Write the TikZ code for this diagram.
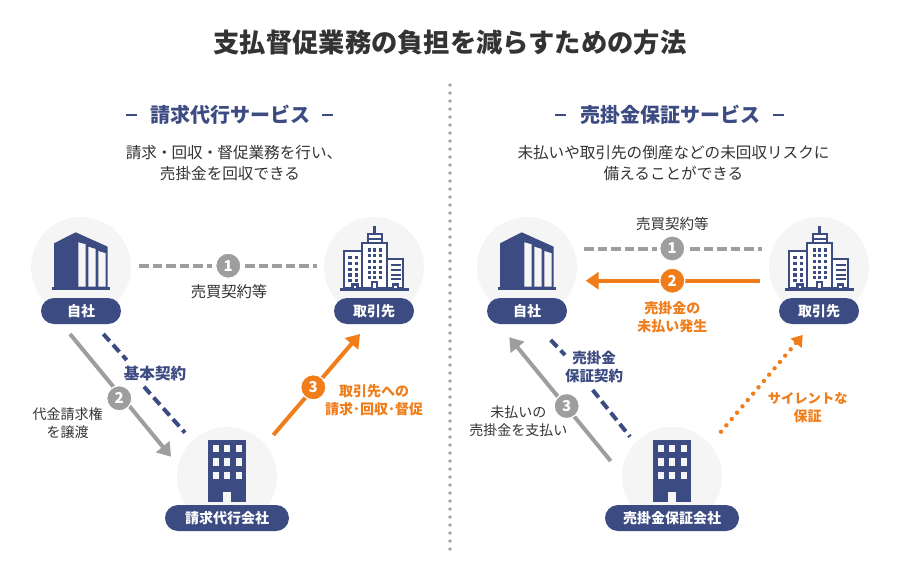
\documentclass[tikz,border=0pt]{standalone}
\usepackage{fontspec}
\setmainfont{Noto Sans CJK JP}
\usetikzlibrary{arrows.meta,shapes.misc}
\definecolor{navy}{HTML}{3C4B81}
\definecolor{orng}{HTML}{F07D1A}
\definecolor{gry}{HTML}{9E9E9E}
\definecolor{ink}{HTML}{333333}
\definecolor{disc}{HTML}{F5F5F5}
\newcommand{\fsz}[2]{\fontsize{#1}{#2}\selectfont}
\tikzset{
  x=1pt,y=-1pt,
  bgdisc/.style={circle,fill=disc,minimum size=100pt,inner sep=0pt},
  pill/.style={rounded rectangle,fill=navy,text=white,font=\fsz{14}{14}\bfseries,minimum height=26pt,inner sep=0pt},
  badge/.style={circle,draw=white,line width=1.2pt,minimum size=25.2pt,inner sep=0pt,text=white,font=\fsz{15}{15}\bfseries},
  label/.style={inner sep=0pt,align=center,text=ink,font=\fsz{14}{18}},
  olabel/.style={inner sep=0pt,align=center,text=orng,font=\fsz{14}{18}\bfseries},
  nlabel/.style={inner sep=0pt,align=center,text=navy,font=\fsz{14.5}{18}\bfseries},
  head/.style={inner sep=0pt,text=navy,font=\fsz{20}{20}\bfseries},
  sub/.style={inner sep=0pt,align=center,text=ink,font=\fsz{15.6}{21}},
  glink/.style={gry,line width=4pt},
  gdash/.style={gry,line width=4pt,dash pattern=on 9.5pt off 4pt},
  ndash/.style={navy,line width=4pt,dash pattern=on 9.5pt off 5pt},
  olink/.style={orng,line width=4pt},
  tipg/.style={-{Triangle[length=13pt,width=17pt,fill=gry]}},
  tipo/.style={-{Triangle[length=13pt,width=17pt,fill=orng]}},
  office/.pic={
    \fill[navy] (-27,-23.7)--(-5.3,-34.7)--(26.7,-20.3)--(26.7,20)--(-27,20)--cycle;
    \fill[navy] (-29,19.7) rectangle (29.3,23);
    \fill[disc] (-2.7,-24.7)--(4.7,-22.7)--(4.7,19.7)--(-2.7,19.7)--cycle;
    \fill[disc] (7.3,-20.3)--(14.7,-18)--(14.7,19.7)--(7.3,19.7)--cycle;
    \fill[disc] (17.3,-16)--(24.7,-13.7)--(24.7,19.7)--(17.3,19.7)--cycle;
  },
  tower/.pic={
    \begin{scope}[draw=navy,line width=2.2pt,fill=white]
      \filldraw (-30,-16) rectangle (-12.3,21);
      \filldraw (13.3,-7.7) rectangle (29.3,21);
      \filldraw (-6.3,-33) rectangle (7.7,-23.7);
      \filldraw (-12.3,-23.7) rectangle (13.3,21);
      \draw (0.5,-41)--(0.5,-33);
      \draw (-6,-28.3)--(7.5,-28.3);
      \filldraw (-2.2,21)--(-2.2,15)--(3.2,15)--(3.2,21);
      \filldraw (-21.5,21)--(-21.5,17.5)--(-16.5,17.5)--(-16.5,21);
      \filldraw (19,21)--(19,17.5)--(24,17.5)--(24,21);
    \end{scope}
    \fill[navy] (-34,20.7) rectangle (35,23.7);
    \foreach \cx in {-4.7,0.7,6.3}\foreach \cy in {-17,-11.3,-5.3,0.3,5.3,10.3}
      \fill[navy] (\cx-1.6,\cy-1.6) rectangle (\cx+1.6,\cy+1.6);
    \foreach \cx in {-24,-17.3}\foreach \cy in {-9.3,-3.7,2.3,8,13.7}
      \fill[navy] (\cx-1.6,\cy-1.6) rectangle (\cx+1.6,\cy+1.6);
    \foreach \cy in {-2,3,8,12.3}
      \fill[navy] (16.5,\cy-.9) rectangle (26.5,\cy+.9);
  },
  agency/.pic={
    \fill[navy] (-19.3,-37) rectangle (19,24.7);
    \foreach \cx in {-14,-2.7,8.7}\foreach \cy in {-32.3,-19,-5.3}
      \fill[disc] (\cx,\cy) rectangle (\cx+5.8,\cy+7.6);
    \fill[disc] (-3.7,15.3) rectangle (4,24.7);
  }
}
\begin{document}
\begin{tikzpicture}
\useasboundingbox[fill=white] (0,0) rectangle (900,568);
% title and divider
\node[inner sep=0pt,text=ink,font=\fsz{26.3}{26}\bfseries] (title) at (450,43) {支払督促業務の負担を減らすための方法};
\coordinate (divT) at (450,85);
\coordinate (divB) at (450,551);
\draw[gry,line width=3.6pt,line cap=round,dash pattern=on 0pt off 8pt] (divT)--(divB);
% --- left panel
\node[head] (hL) at (230,115) {請求代行サービス};
\coordinate (hL1a) at (125.7,114.8); \coordinate (hL1b) at (136.7,114.8);
\coordinate (hL2a) at (322.3,114.8); \coordinate (hL2b) at (332.7,114.8);
\draw[navy,line width=2pt] (hL1a)--(hL1b) (hL2a)--(hL2b);
\node[sub] (sL) at (230,163) {\hspace*{8pt}請求\kern-.5pt・\kern-.5pt回収\kern-.5pt・\kern-.5pt督促業務を行い、\\売掛金を回収できる};

\node[bgdisc] (cA) at (81,267) {};
\pic at (cA.center) {office};
\node[pill,minimum width=80pt] (pA) at (81,311) {自社};
\node[bgdisc] (cB) at (374,267) {};
\pic at (cB.center) {tower};
\node[pill,minimum width=80pt] (pB) at (374,311) {取引先};
\node[bgdisc] (cC) at (227,477) {};
\pic at (cC.center) {agency};
\node[pill,minimum width=124pt] (pC) at (227,518) {請求代行会社};

\node[badge,fill=gry] (b1) at (228.3,265.7) {1};
\coordinate (a1) at (139,265.7); \coordinate (a2) at (211.7,265.7);
\coordinate (a3) at (245,265.7); \coordinate (a4) at (317,265.7);
\draw[gdash] (a1)--(a2) (a3)--(a4);
\node[label,font=\fsz{15.3}{18}] (l1) at (229,291.5) {売買契約等};

\coordinate (g1) at (70,334); \coordinate (g2) at (171,456.7);
\draw[glink,tipg] (g1)--(g2);
\node[badge,fill=gry] (b2) at (119.3,398.3) {2};
\node[label] (l2) at (67.7,423) {代金請求権\\を譲渡};

\coordinate (n1) at (103.3,334); \coordinate (n2) at (126.7,360);
\coordinate (n3) at (144,386.7); \coordinate (n4) at (185,432.7);
\draw[ndash] (n1)--(n2) (n3)--(n4);
\node[nlabel,font=\fsz{15.6}{18}\bfseries] (l3) at (155,373.3) {基本契約};

\coordinate (o1) at (273.3,435); \coordinate (o2) at (360,334);
\draw[olink,tipo] (o1)--(o2);
\node[badge,fill=orng] (b3) at (313.3,387.3) {3};
\node[olabel] (l4) at (374,400.5) {取引先への\\請求･回収･督促};

% --- right panel
\node[head] (hR) at (670.5,115) {売掛金保証サービス};
\coordinate (hR1a) at (555,114.8); \coordinate (hR1b) at (566,114.8);
\coordinate (hR2a) at (773.3,114.8); \coordinate (hR2b) at (784,114.8);
\draw[navy,line width=2pt] (hR1a)--(hR1b) (hR2a)--(hR2b);
\node[sub] (sR) at (673.5,163) {未払いや取引先の倒産などの未回収リスクに\\備えることができる};

\node[bgdisc] (cD) at (527,267) {};
\pic at (cD.center) {office};
\node[pill,minimum width=80pt] (pD) at (527,311) {自社};
\node[bgdisc] (cE) at (819,267) {};
\pic at (cE.center) {tower};
\node[pill,minimum width=80pt] (pE) at (819,311) {取引先};
\node[bgdisc] (cF) at (672,477) {};
\pic at (cF.center) {agency};
\node[pill,minimum width=134pt] (pF) at (672,518) {売掛金保証会社};

\node[badge,fill=gry] (rb1) at (672.3,248.5) {1};
\coordinate (r1) at (584,248.7); \coordinate (r2) at (656.7,248.7);
\coordinate (r3) at (690,248.7); \coordinate (r4) at (761.7,248.7);
\draw[gdash] (r1)--(r2) (r3)--(r4);
\node[label,font=\fsz{14.5}{18}] (rl1) at (672.3,224.3) {売買契約等};

\coordinate (s1) at (760,280.7); \coordinate (s2) at (585.7,280.7);
\draw[olink,tipo] (s1)--(s2);
\node[badge,fill=orng] (rb2) at (672.3,280.7) {2};
\node[olabel] (rl2) at (672.3,316.7) {売掛金の\\未払い発生};

\coordinate (t1) at (610.7,461); \coordinate (t2) at (509.3,337.3);
\draw[glink,tipg] (t1)--(t2);
\node[badge,fill=gry] (rb3) at (566.7,406) {3};
\node[label] (rl3) at (518.3,421) {未払いの\\売掛金を支払い};

\coordinate (u1) at (550.7,340); \coordinate (u2) at (565,355);
\coordinate (u3) at (592.7,390); \coordinate (u4) at (630,436.7);
\draw[ndash] (u1)--(u2) (u3)--(u4);
\node[nlabel] (rl4) at (594,367) {売掛金\\保証契約};

\coordinate (v1) at (721,431.7); \coordinate (v2) at (802.7,335);
\draw[orng,line width=4.4pt,line cap=round,dash pattern=on 0pt off 8.3pt,shorten >=8pt] (v1)--(v2);
\fill[orng] (v2)--(790.5,338.5)--(801.7,348)--cycle;
\node[olabel] (rl5) at (807.7,408) {{\fsz{13.3}{18}サイレントな}\\保証};
\end{tikzpicture}
\end{document}
